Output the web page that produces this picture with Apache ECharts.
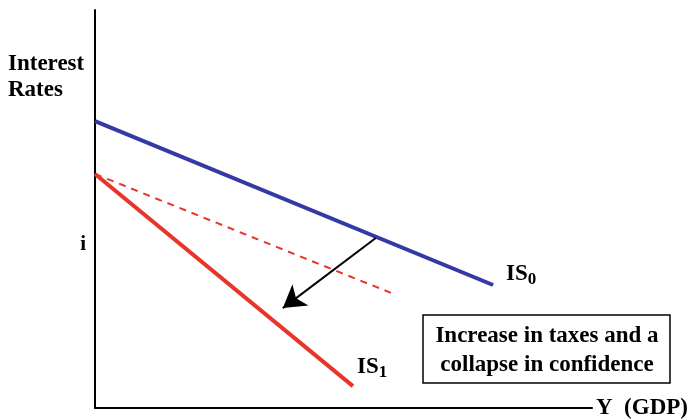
<!DOCTYPE html>
<html><head><meta charset="utf-8">
<script src="https://cdn.jsdelivr.net/npm/echarts@6/dist/echarts.min.js"></script>
<style>html,body{margin:0;padding:0;background:#fff}#c{width:692px;height:420px}</style>
</head><body><div id="c"></div>
<script>
// Data (x = output Y, y = interest rate), arbitrary 0-100 units
var is0 = [[0, 72.1], [80.1, 30.9]];
var is1 = [[0, 58.8], [51.9, 5.5]];
var is0Shifted = [[0, 58.8], [60.2, 28.6]];
var shiftArrow = [[56.5, 42.7], [37.8, 25.1]];
var iLevel = 41;
var labels = { yName: 'Interest\nRates', xName: 'Y  (GDP)', rate: 'i',
  note: ['Increase in taxes and a', 'collapse in confidence'] };

var FONT = '"Liberation Serif","Times New Roman",serif';
var richSub = {
  a: { fontFamily: FONT, fontWeight: 'bold', fontSize: 23, color: '#000', lineHeight: 24, verticalAlign: 'top' },
  b: { fontFamily: FONT, fontWeight: 'bold', fontSize: 17, color: '#000', lineHeight: 34, verticalAlign: 'middle' }
};
var chart = echarts.init(document.getElementById('c'));
chart.setOption({
  animation: false,
  grid: { left: 95, right: 100, top: 10, bottom: 12 },
  xAxis: {
    type: 'value', min: 0, max: 100,
    axisLine: { show: true, lineStyle: { color: '#000', width: 2 } },
    axisTick: { show: false }, axisLabel: { show: false }, splitLine: { show: false },
    name: labels.xName, nameLocation: 'end', nameGap: 4,
    nameTextStyle: { fontFamily: FONT, fontWeight: 'bold', fontSize: 23, color: '#000', verticalAlign: 'middle', padding: [4, 0, 0, 0] }
  },
  yAxis: {
    type: 'value', min: 0, max: 100,
    axisLine: { show: true, lineStyle: { color: '#000', width: 2 } },
    axisTick: { show: false }, splitLine: { show: false },
    axisLabel: {
      show: true, margin: 9,
      customValues: [iLevel],
      formatter: function () { return labels.rate; },
      fontFamily: FONT, fontWeight: 'bold', fontSize: 21, color: '#000'
    }
  },
  graphic: [
    { type: 'text', left: 8, top: 51, style: { text: labels.yName, fontFamily: FONT, fontWeight: 'bold', fontSize: 23, lineHeight: 26, fill: '#000' } },
    { type: 'rect', shape: { x: 423, y: 315, width: 247, height: 68 }, style: { fill: '#fff', stroke: '#000', lineWidth: 1.5 } },
    { type: 'text', x: 547, y: 336, style: { text: labels.note[0], align: 'center', verticalAlign: 'middle', fontFamily: FONT, fontWeight: 'bold', fontSize: 23, fill: '#000' } },
    { type: 'text', x: 547, y: 365, style: { text: labels.note[1], align: 'center', verticalAlign: 'middle', fontFamily: FONT, fontWeight: 'bold', fontSize: 23, fill: '#000' } }
  ],
  series: [
    {
      type: 'line', data: is0, symbol: 'none', silent: true,
      lineStyle: { color: '#3439a6', width: 4 },
      endLabel: { show: true, formatter: '{a|IS}{b|0}', offset: [5, -5], rich: richSub }
    },
    {
      type: 'line', data: is0Shifted, symbol: 'none', silent: true,
      lineStyle: { color: '#e8352a', width: 2, type: [7, 6] }
    },
    {
      type: 'line', data: is1, symbol: 'none', silent: true,
      lineStyle: { color: '#e8352a', width: 4 },
      endLabel: { show: true, formatter: '{a|IS}{b|1}', offset: [-4, -14], rich: richSub },
      markLine: {
        silent: true, symbol: ['none', 'arrow'], symbolSize: [20, 22],
        label: { show: false },
        lineStyle: { color: '#000', width: 2, type: 'solid' },
        data: [[{ coord: shiftArrow[0] }, { coord: shiftArrow[1] }]]
      }
    }
  ]
});
</script></body></html>
